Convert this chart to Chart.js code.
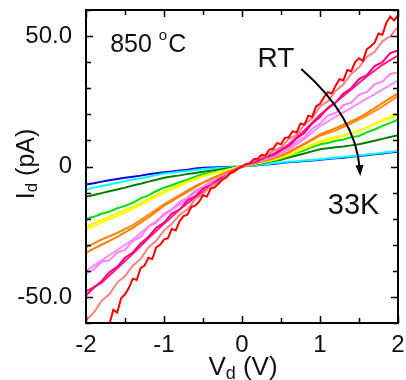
<!DOCTYPE html>
<html>
<head>
<meta charset="utf-8">
<script src="https://cdn.jsdelivr.net/npm/chart.js@4/dist/chart.umd.min.js"></script>
<style>
  html, body { margin: 0; padding: 0; background: #fff; }
</style>
</head>
<body>
<canvas id="chart" width="406" height="380"></canvas>
<script>
// bias voltage: 0.05 V steps (RT sweep), 0.1 V steps and 0.2 V steps (return sweeps)
const vRT = [-2.00,-1.95,-1.90,-1.85,-1.80,-1.75,-1.70,-1.65,-1.60,-1.55,-1.50,-1.45,-1.40,-1.35,-1.30,-1.25,-1.20,-1.15,-1.10,-1.05,
  -1.00,-0.95,-0.90,-0.85,-0.80,-0.75,-0.70,-0.65,-0.60,-0.55,-0.50,-0.45,-0.40,-0.35,-0.30,-0.25,-0.20,-0.15,-0.10,-0.05,
  0.00,0.05,0.10,0.15,0.20,0.25,0.30,0.35,0.40,0.45,0.50,0.55,0.60,0.65,0.70,0.75,0.80,0.85,0.90,0.95,
  1.00,1.05,1.10,1.15,1.20,1.25,1.30,1.35,1.40,1.45,1.50,1.55,1.60,1.65,1.70,1.75,1.80,1.85,1.90,1.95,2.00];
const vFine = [-2.0,-1.9,-1.8,-1.7,-1.6,-1.5,-1.4,-1.3,-1.2,-1.1,-1.0,-0.9,-0.8,-0.7,-0.6,-0.5,-0.4,-0.3,-0.2,-0.1,
  0.0,0.1,0.2,0.3,0.4,0.5,0.6,0.7,0.8,0.9,1.0,1.1,1.2,1.3,1.4,1.5,1.6,1.7,1.8,1.9,2.0];
const vCoarse = [-2.0,-1.8,-1.6,-1.4,-1.2,-1.0,-0.8,-0.6,-0.4,-0.2,0.0,0.2,0.4,0.6,0.8,1.0,1.2,1.4,1.6,1.8,2.0];

// drain current (pA), RT down to 33K
const iRed = [-76,-72,-70,-66,-65,-61,-60.5,-55,-56,-50.5,-49,-46.5,-43,-43.5,-39,-38,-35,-35.5,-31,-30,
  -28,-27.5,-24,-24.5,-21,-19,-18.5,-15.5,-15,-13.5,-11,-11.5,-8.5,-8,-6.5,-5,-4.2,-2.5,-2,-0.8,
  0,1,1.2,2.8,3,4.5,4.2,6.5,6.8,9,8.5,11,11.2,13.5,13,16.5,16,19.5,19,23,
  24,26.5,28.5,28,31,33.5,33,37,36.5,40,41.5,40.5,45,46,47.5,51,50.5,55,57.5,56,58];
const iSalmon = [-59,-56,-51.5,-49,-44.5,-42,-38,-35.5,-31,-28.5,-24.5,-22,-18.5,-16.5,-12.5,-10.5,-7.5,-6,-3.5,-2,
  0,1.3,3,4,6,7.3,10.5,12,16,18.5,23,25,29,31.5,35.5,38,42,44,48,50,53.5];
const iPink = [-49.5,-46.5,-44,-40.5,-38.5,-35,-33,-29.5,-27,-23.5,-21.5,-18,-16.5,-13,-11.5,-8.5,-7.2,-4.8,-3.5,-1.5,
  0,1.1,2,3.6,4.4,6.2,7.8,10.8,12.8,16.5,19,22.5,24.5,28,30,33.5,35,38.5,40,43.5,44.5];
const iPink2 = [-48,-44.5,-39,-33.5,-27.5,-22,-16.5,-11.8,-7.5,-3.6,0,2.3,4.8,8.5,13.8,19.8,24.5,29.5,34.5,39,42.5];
const iViolet = [-41,-39.5,-36.5,-36,-33,-32,-28.5,-27,-23,-21.5,-18,-16.5,-13.5,-12,-9.2,-7.8,-5.8,-4.7,-2.8,-1.6,
  0,1,1.8,3.1,3.7,5.2,6.8,9.5,11.2,14.5,16.5,19.5,20.5,23.5,24.5,27.5,28.5,31.5,32.5,35.5,36];
const iViolet2 = [-40,-36,-32,-28,-23,-18.8,-14.5,-10,-6.3,-3.2,0,1.8,3.8,6.5,10.5,15.5,19,22.5,26,29.5,33];
const iOrange = [-33,-31.5,-30,-28.5,-27,-25.3,-23.5,-21.5,-19.5,-17.3,-15,-13.3,-11.5,-9.7,-7.9,-6.2,-4.9,-3.6,-2.4,-1.2,
  0,0.8,1.6,2.4,3.2,4.1,5.6,7.2,8.8,10.5,12.3,13.5,14.7,16,17.3,18.7,20.5,22.4,24.3,26.2,28];
const iOrange2 = [-31,-28,-25.5,-22.5,-18.5,-14.5,-11,-7.5,-4.7,-2.2,0,1.5,3,5.3,8.5,11.8,13.8,16.5,19.5,23,27];
const iYellow = [-24,-22.8,-21.5,-20.2,-19,-17.7,-16.2,-14.7,-13.2,-11.6,-10,-8.7,-7.5,-6.2,-4.9,-3.7,-2.9,-2.2,-1.5,-0.7,
  0,0.6,1.3,2,2.7,3.4,4.6,5.9,7.2,8.5,9.8,10.6,11.3,12.1,12.9,13.6,15,16.4,17.8,19.2,20.6];
const iYellow2 = [-23,-20.5,-18,-15.5,-12.5,-9.5,-7,-4.6,-2.8,-1.3,0,1.2,2.5,4.3,7,9.3,10.9,12.6,15,17.5,19.8];
const iGreen = [-20,-19.3,-18.1,-17.3,-16,-15.1,-13.9,-12.2,-11.1,-9.4,-8.1,-7.2,-6,-5.1,-3.9,-3,-2.4,-1.8,-1.2,-0.6,
  0,0.6,1.2,1.9,2.4,3,4.1,5.3,6.2,7.5,8.5,9,9.9,10.3,11.2,11.7,13.1,14.2,15.6,16.7,18];
const iDkGreen = [-11.6,-10.9,-10.2,-9.5,-8.8,-8.1,-7.3,-6.6,-5.8,-5.1,-4.3,-3.8,-3.4,-2.9,-2.5,-2,-1.6,-1.2,-0.8,-0.4,
  0,0.5,1,1.6,2.1,2.6,3.4,4.2,5,5.8,6.6,7,7.4,7.7,8.1,8.5,9.2,9.9,10.6,11.3,12];
const iCyan = [-8.8,-8.1,-7.5,-6.9,-6.2,-5.6,-5,-4.5,-3.9,-3.3,-2.7,-2.4,-2,-1.7,-1.3,-1,-0.8,-0.6,-0.4,-0.2,
  0,0.3,0.6,0.9,1.2,1.5,1.8,2,2.3,2.5,2.8,3.1,3.4,3.6,3.9,4.2,4.6,4.9,5.3,5.6,6];
const iBlue = [-6.9,-6.4,-5.8,-5.3,-4.8,-4.3,-3.9,-3.5,-3,-2.6,-2.2,-1.9,-1.5,-1.2,-0.8,-0.5,-0.4,-0.3,-0.2,-0.1,
  0,0.3,0.5,0.8,1,1.3,1.6,1.8,2.1,2.3,2.6,2.9,3.2,3.4,3.7,4,4.3,4.7,5,5.4,5.7];

const xTicks = [-2,-1.5,-1,-0.5,0,0.5,1,1.5,2];
const xLabels = {'-2':'-2','-1':'-1','0':'0','1':'1','2':'2'};
const yLabels = {'50':'50.0','0':'0','-50':'-50.0'};

const FONT = '"Liberation Sans", Arial, sans-serif';

function pts(xs, ys) {
  return xs.map((x, i) => ({x: x, y: ys[i]}));
}

// first dataset is drawn on top
const curves = [
  [vRT, iRed, '#ff0000'],
  [vFine, iSalmon, '#ff8080'],
  [vFine, iPink, '#ff0080'],
  [vCoarse, iPink2, '#ff1a8c'],
  [vFine, iViolet, '#ff80ff'],
  [vCoarse, iViolet2, '#ff8cff'],
  [vFine, iOrange, '#ff8000'],
  [vCoarse, iOrange2, '#ff8a10'],
  [vFine, iYellow, '#ffff00'],
  [vCoarse, iYellow2, '#f5f500'],
  [vFine, iGreen, '#00e000'],
  [vFine, iDkGreen, '#008000'],
  [vFine, iCyan, '#00ffff'],
  [vFine, iBlue, '#0000ff']
];

const datasets = curves.map(c => ({
  data: pts(c[0], c[1]),
  borderColor: c[2],
  borderWidth: 2,
  pointRadius: 0,
  tension: 0,
  fill: false
}));

// frame, inward ticks, annotations and axis titles
const decor = {
  id: 'decor',
  afterDatasetsDraw(chart) {
    const ctx = chart.ctx;
    const a = chart.chartArea;
    const xs = chart.scales.x, ys = chart.scales.y;
    ctx.save();
    ctx.strokeStyle = '#000';
    ctx.lineWidth = 2;
    ctx.strokeRect(a.left, a.top, a.right - a.left, a.bottom - a.top);

    ctx.lineWidth = 1.5;
    ctx.beginPath();
    xs.ticks.forEach(t => {
      const px = Math.round(xs.getPixelForValue(t.value)) + 0.5;
      const len = Number.isInteger(t.value) ? 7 : 5;
      ctx.moveTo(px, a.bottom); ctx.lineTo(px, a.bottom - len);
      ctx.moveTo(px, a.top); ctx.lineTo(px, a.top + len);
    });
    ys.ticks.forEach(t => {
      const py = Math.round(ys.getPixelForValue(t.value)) + 0.5;
      const len = t.value % 50 === 0 ? 7 : 5;
      ctx.moveTo(a.left, py); ctx.lineTo(a.left + len, py);
      ctx.moveTo(a.right, py); ctx.lineTo(a.right - len, py);
    });
    ctx.stroke();

    // arrow RT -> 33K
    const p0 = [xs.getPixelForValue(0.76), ys.getPixelForValue(37.4)];
    const pc = [xs.getPixelForValue(1.46), ys.getPixelForValue(19.1)];
    const p1 = [xs.getPixelForValue(1.51), ys.getPixelForValue(-1.0)];
    ctx.lineWidth = 2;
    ctx.beginPath();
    ctx.moveTo(p0[0], p0[1]);
    ctx.quadraticCurveTo(pc[0], pc[1], p1[0], p1[1]);
    ctx.stroke();
    const ang = Math.atan2(p1[1] - pc[1], p1[0] - pc[0]);
    const tip = [p1[0] + Math.cos(ang) * 7, p1[1] + Math.sin(ang) * 7];
    ctx.fillStyle = '#000';
    ctx.beginPath();
    ctx.moveTo(tip[0], tip[1]);
    ctx.lineTo(tip[0] - Math.cos(ang) * 11 + Math.sin(ang) * 4, tip[1] - Math.sin(ang) * 11 - Math.cos(ang) * 4);
    ctx.lineTo(tip[0] - Math.cos(ang) * 11 - Math.sin(ang) * 4, tip[1] - Math.sin(ang) * 11 + Math.cos(ang) * 4);
    ctx.closePath();
    ctx.fill();

    // labels inside plot
    ctx.fillStyle = '#111';
    ctx.textBaseline = 'alphabetic';
    ctx.textAlign = 'left';
    let x = xs.getPixelForValue(-1.69), y = ys.getPixelForValue(43.9);
    ctx.font = '25px ' + FONT;
    ctx.fillText('850 ', x, y);
    x += ctx.measureText('850 ').width;
    ctx.font = '15px ' + FONT;
    ctx.fillText('o', x, y - 12);
    x += ctx.measureText('o').width + 1;
    ctx.font = '25px ' + FONT;
    ctx.fillText('C', x, y);

    ctx.font = '28px ' + FONT;
    ctx.fillText('RT', xs.getPixelForValue(0.2), ys.getPixelForValue(38));
    ctx.font = '29px ' + FONT;
    ctx.fillText('33K', xs.getPixelForValue(1.1), ys.getPixelForValue(-18.3));
    ctx.restore();
  },
  afterDraw(chart) {
    const ctx = chart.ctx;
    const a = chart.chartArea;
    ctx.save();
    ctx.fillStyle = '#111';
    ctx.textBaseline = 'alphabetic';
    ctx.textAlign = 'left';

    // x title: V_d (V)
    const big = '26px ' + FONT, small = '18px ' + FONT;
    ctx.font = big; const wV = ctx.measureText('V').width, wR = ctx.measureText(' (V)').width;
    ctx.font = small; const wd = ctx.measureText('d').width;
    let x = 243 - (wV + wd + wR) / 2;
    const by = 375;
    ctx.font = big; ctx.fillText('V', x, by); x += wV;
    ctx.font = small; ctx.fillText('d', x, by + 4); x += wd;
    ctx.font = big; ctx.fillText(' (V)', x, by);

    // y title: I_d (pA)
    const bigY = '25px ' + FONT, smallY = '17px ' + FONT;
    ctx.translate(34, 164);
    ctx.rotate(-Math.PI / 2);
    ctx.font = smallY; const wdY = ctx.measureText('d').width;
    ctx.font = bigY; const wI = ctx.measureText('I').width, wP = ctx.measureText(' (pA)').width;
    let t = -(wI + wdY + wP) / 2;
    ctx.fillText('I', t, 0); t += wI;
    ctx.font = smallY; ctx.fillText('d', t, 3); t += wdY;
    ctx.font = bigY; ctx.fillText(' (pA)', t, 0);
    ctx.restore();
  }
};

new Chart(document.getElementById('chart'), {
  type: 'line',
  data: { datasets: datasets },
  options: {
    responsive: false,
    animation: false,
    devicePixelRatio: 1,
    layout: { padding: { left: 0, right: 8, top: 10, bottom: 0 } },
    plugins: { legend: { display: false }, tooltip: { enabled: false } },
    scales: {
      x: {
        type: 'linear',
        min: -2, max: 2,
        afterFit: s => { s.height = 57; s.paddingLeft = 0; s.paddingRight = 0; },
        afterBuildTicks: s => { s.ticks = xTicks.map(v => ({value: v})); },
        grid: { display: false, drawTicks: false },
        border: { display: false },
        ticks: {
          padding: 8,
          maxRotation: 0,
          autoSkip: false,
          color: '#111',
          font: { family: FONT, size: 24 },
          callback: v => xLabels[String(v)] || ''
        }
      },
      y: {
        type: 'linear',
        min: -60, max: 60,
        afterFit: s => { s.width = 86; s.paddingTop = 0; s.paddingBottom = 0; },
        grid: { display: false, drawTicks: false },
        border: { display: false },
        ticks: {
          stepSize: 10,
          padding: 14,
          autoSkip: false,
          color: '#111',
          font: { family: FONT, size: 24 },
          callback: v => yLabels[String(v)] || ''
        }
      }
    }
  },
  plugins: [decor]
});
</script>
</body>
</html>
